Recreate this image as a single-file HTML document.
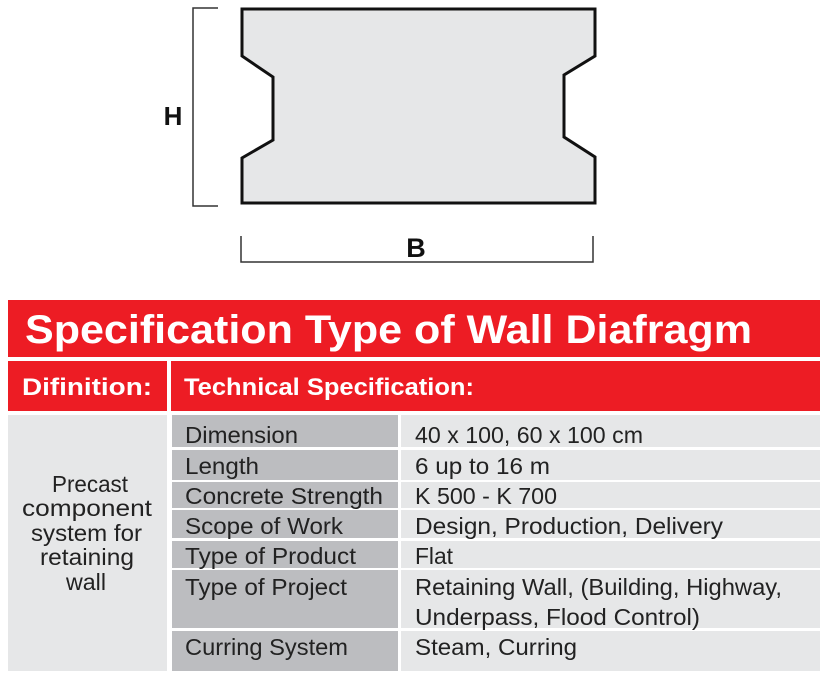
<!DOCTYPE html>
<html><head><meta charset="utf-8"><style>
html,body{margin:0;padding:0;background:#fff;width:827px;height:677px;overflow:hidden}
svg{display:block}
text{font-family:"Liberation Sans",sans-serif}
</style></head><body>
<svg width="827" height="677" viewBox="0 0 827 677" xmlns="http://www.w3.org/2000/svg">
<polygon points="242,9 595,9 595,56 564,75 564,137 595,157 595,203 242,203 242,158 273,140 273,77 242,56" fill="#e6e7e8" stroke="#111" stroke-width="3" stroke-linejoin="miter"/>
<polyline points="218,8 193,8 193,206 218,206" fill="none" stroke="#333" stroke-width="1.5"/>
<text x="173" y="125" font-size="26" font-weight="bold" text-anchor="middle" fill="#111">H</text>
<polyline points="241,236 241,262 593,262 593,236" fill="none" stroke="#333" stroke-width="1.5"/>
<text x="416" y="257" font-size="27" font-weight="bold" text-anchor="middle" fill="#111">B</text>

<rect x="8" y="300" width="812" height="57" fill="#ed1c24"/>
<text x="25" y="343" font-size="40" font-weight="bold" fill="#fff" textLength="727" lengthAdjust="spacingAndGlyphs">Specification Type of Wall Diafragm</text>
<rect x="8" y="361" width="159" height="50" fill="#ed1c24"/>
<rect x="171" y="361" width="649" height="50" fill="#ed1c24"/>
<text x="22" y="395" font-size="24" font-weight="bold" fill="#fff" textLength="130" lengthAdjust="spacingAndGlyphs">Difinition:</text>
<text x="184" y="395" font-size="24" font-weight="bold" fill="#fff" textLength="290" lengthAdjust="spacingAndGlyphs">Technical Specification:</text>

<rect x="8" y="415" width="159" height="256" fill="#e6e7e8"/>
<g font-size="23" fill="#222">
<text x="52" y="492" textLength="76" lengthAdjust="spacingAndGlyphs">Precast</text>
<text x="22" y="516" textLength="130" lengthAdjust="spacingAndGlyphs">component</text>
<text x="31" y="541" textLength="111" lengthAdjust="spacingAndGlyphs">system for</text>
<text x="40" y="565" textLength="94" lengthAdjust="spacingAndGlyphs">retaining</text>
<text x="66" y="590" textLength="40" lengthAdjust="spacingAndGlyphs">wall</text>
</g>
<g fill="#bcbdc0">
<rect x="172" y="415" width="226" height="32"/>
<rect x="172" y="450" width="226" height="30"/>
<rect x="172" y="482" width="226" height="26"/>
<rect x="172" y="510" width="226" height="28"/>
<rect x="172" y="541" width="226" height="27"/>
<rect x="172" y="570" width="226" height="58"/>
<rect x="172" y="631" width="226" height="40"/>
</g>
<g fill="#e6e7e8">
<rect x="401" y="415" width="419" height="32"/>
<rect x="401" y="450" width="419" height="30"/>
<rect x="401" y="482" width="419" height="26"/>
<rect x="401" y="510" width="419" height="28"/>
<rect x="401" y="541" width="419" height="27"/>
<rect x="401" y="570" width="419" height="58"/>
<rect x="401" y="631" width="419" height="40"/>
</g>
<g font-size="23" fill="#222" lengthAdjust="spacingAndGlyphs">
<text x="185" y="443" textLength="113" lengthAdjust="spacingAndGlyphs">Dimension</text>
<text x="185" y="474" textLength="74" lengthAdjust="spacingAndGlyphs">Length</text>
<text x="185" y="504" textLength="198" lengthAdjust="spacingAndGlyphs">Concrete Strength</text>
<text x="185" y="534" textLength="158" lengthAdjust="spacingAndGlyphs">Scope of Work</text>
<text x="185" y="564" textLength="171" lengthAdjust="spacingAndGlyphs">Type of Product</text>
<text x="185" y="595" textLength="162" lengthAdjust="spacingAndGlyphs">Type of Project</text>
<text x="185" y="655" textLength="163" lengthAdjust="spacingAndGlyphs">Curring System</text>
<text x="415" y="443" textLength="228" lengthAdjust="spacingAndGlyphs">40 x 100, 60 x 100 cm</text>
<text x="415" y="474" textLength="135" lengthAdjust="spacingAndGlyphs">6 up to 16 m</text>
<text x="415" y="504" textLength="142" lengthAdjust="spacingAndGlyphs">K 500 - K 700</text>
<text x="415" y="534" textLength="308" lengthAdjust="spacingAndGlyphs">Design, Production, Delivery</text>
<text x="415" y="564" textLength="38" lengthAdjust="spacingAndGlyphs">Flat</text>
<text x="415" y="595" textLength="367" lengthAdjust="spacingAndGlyphs">Retaining Wall, (Building, Highway,</text>
<text x="415" y="625" textLength="285" lengthAdjust="spacingAndGlyphs">Underpass, Flood Control)</text>
<text x="415" y="655" textLength="162" lengthAdjust="spacingAndGlyphs">Steam, Curring</text>
</g>
</svg>
</body></html>
